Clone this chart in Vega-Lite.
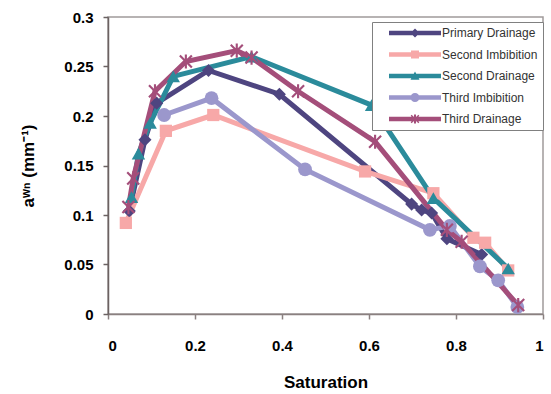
{
  "$schema": "https://vega.github.io/schema/vega-lite/v6.json",
  "width": 435,
  "height": 297,
  "autosize": "none",
  "padding": {"left": 108, "top": 17, "right": 8, "bottom": 80},
  "background": "white",
  "config": {
    "view": {"stroke": "#a09a9a", "strokeWidth": 1.5},
    "font": "Liberation Sans"
  },
  "data": {
    "values": [
      {"series": "Primary Drainage", "s": 0.049, "a": 0.104},
      {"series": "Primary Drainage", "s": 0.085, "a": 0.176},
      {"series": "Primary Drainage", "s": 0.112, "a": 0.213},
      {"series": "Primary Drainage", "s": 0.231, "a": 0.246},
      {"series": "Primary Drainage", "s": 0.394, "a": 0.222},
      {"series": "Primary Drainage", "s": 0.698, "a": 0.111},
      {"series": "Primary Drainage", "s": 0.721, "a": 0.105},
      {"series": "Primary Drainage", "s": 0.744, "a": 0.102},
      {"series": "Primary Drainage", "s": 0.779, "a": 0.076},
      {"series": "Primary Drainage", "s": 0.859, "a": 0.060},
      {"series": "Second Imbibition", "s": 0.041, "a": 0.092},
      {"series": "Second Imbibition", "s": 0.133, "a": 0.185},
      {"series": "Second Imbibition", "s": 0.242, "a": 0.201},
      {"series": "Second Imbibition", "s": 0.591, "a": 0.144},
      {"series": "Second Imbibition", "s": 0.748, "a": 0.122},
      {"series": "Second Imbibition", "s": 0.840, "a": 0.077},
      {"series": "Second Imbibition", "s": 0.867, "a": 0.072},
      {"series": "Second Imbibition", "s": 0.920, "a": 0.044},
      {"series": "Second Drainage", "s": 0.054, "a": 0.118},
      {"series": "Second Drainage", "s": 0.070, "a": 0.162},
      {"series": "Second Drainage", "s": 0.097, "a": 0.193},
      {"series": "Second Drainage", "s": 0.150, "a": 0.240},
      {"series": "Second Drainage", "s": 0.330, "a": 0.260},
      {"series": "Second Drainage", "s": 0.606, "a": 0.211},
      {"series": "Second Drainage", "s": 0.748, "a": 0.117},
      {"series": "Second Drainage", "s": 0.920, "a": 0.046},
      {"series": "Third Imbibition", "s": 0.129, "a": 0.201},
      {"series": "Third Imbibition", "s": 0.238, "a": 0.218},
      {"series": "Third Imbibition", "s": 0.453, "a": 0.146},
      {"series": "Third Imbibition", "s": 0.740, "a": 0.085},
      {"series": "Third Imbibition", "s": 0.786, "a": 0.089},
      {"series": "Third Imbibition", "s": 0.855, "a": 0.048},
      {"series": "Third Imbibition", "s": 0.897, "a": 0.034},
      {"series": "Third Imbibition", "s": 0.941, "a": 0.007},
      {"series": "Third Drainage", "s": 0.047, "a": 0.108},
      {"series": "Third Drainage", "s": 0.058, "a": 0.137},
      {"series": "Third Drainage", "s": 0.108, "a": 0.225},
      {"series": "Third Drainage", "s": 0.179, "a": 0.255},
      {"series": "Third Drainage", "s": 0.296, "a": 0.266},
      {"series": "Third Drainage", "s": 0.330, "a": 0.259},
      {"series": "Third Drainage", "s": 0.437, "a": 0.225},
      {"series": "Third Drainage", "s": 0.614, "a": 0.174},
      {"series": "Third Drainage", "s": 0.779, "a": 0.085},
      {"series": "Third Drainage", "s": 0.813, "a": 0.073},
      {"series": "Third Drainage", "s": 0.943, "a": 0.009}
    ]
  },
  "encoding": {
    "x": {
      "field": "s", "type": "quantitative",
      "scale": {"domain": [0, 1], "nice": false, "zero": false},
      "axis": {
        "title": "Saturation", "values": [0, 0.2, 0.4, 0.6, 0.8, 1], "format": ".1~f",
        "grid": false, "domainColor": "#8a8080", "domainWidth": 1.5, "tickColor": "#8a8080", "tickSize": 5, "tickWidth": 1.5,
        "labelFont": "Liberation Sans", "labelFontWeight": "bold", "labelFontSize": 15, "labelColor": "#000", "labelPadding": 19,
        "titleFont": "Liberation Sans", "titleFontWeight": "bold", "titleFontSize": 17, "titleColor": "#000", "titlePadding": 21
      }
    },
    "y": {
      "field": "a", "type": "quantitative",
      "scale": {"domain": [0, 0.3], "nice": false, "zero": false},
      "axis": {
        "title": "aʷⁿ (mm⁻¹)", "values": [0, 0.05, 0.1, 0.15, 0.2, 0.25, 0.3], "format": ".2~f",
        "grid": false, "domainColor": "#6b6262", "domainWidth": 1.5, "tickColor": "#6b6262", "tickSize": 5, "tickWidth": 1.5,
        "labelFont": "Liberation Sans", "labelFontWeight": "bold", "labelFontSize": 15, "labelColor": "#000", "labelPadding": 10,
        "titleFont": "Liberation Sans", "titleFontWeight": "bold", "titleFontSize": 17, "titleColor": "#000", "titlePadding": 26
      }
    },
    "color": {
      "field": "series", "type": "nominal",
      "scale": {
        "domain": ["Primary Drainage", "Second Imbibition", "Second Drainage", "Third Imbibition", "Third Drainage"],
        "range": ["#4e4580", "#f7a8a8", "#2b8b9b", "#9b97cc", "#a44e7a"]
      },
      "legend": {
        "title": null, "orient": "none", "legendX": 264, "legendY": 5,
        "symbolSize": 100, "symbolOffset": 32, "labelOffset": 21, "symbolOpacity": 1, "symbolStrokeWidth": 0,
        "labelFont": "Liberation Sans", "labelFontSize": 12, "labelColor": "#333",
        "padding": 5, "rowPadding": 9.5, "strokeColor": "#808080", "fillColor": "white",
        "encode": {
          "symbols": {
            "update": {
              "fill": {"scale": "color", "field": "value"},
              "strokeWidth": {"value": 0},
              "shape": {"signal": "datum.value === 'Primary Drainage' ? 'M-5.2,-0.45L5.2,-0.45L5.2,0.45L-5.2,0.45ZM0,-0.9L0.9,0L0,0.9L-0.9,0Z' : datum.value === 'Second Imbibition' ? 'M-5.2,-0.45L5.2,-0.45L5.2,0.45L-5.2,0.45ZM-0.8,-0.8L0.8,-0.8L0.8,0.8L-0.8,0.8Z' : datum.value === 'Second Drainage' ? 'M-5.2,-0.45L5.2,-0.45L5.2,0.45L-5.2,0.45ZM0,-0.9L0.9,0.75L-0.9,0.75Z' : datum.value === 'Third Imbibition' ? 'M-5.2,-0.45L5.2,-0.45L5.2,0.45L-5.2,0.45ZM-0.9,0A0.9,0.9,0,1,1,0.9,0A0.9,0.9,0,1,1,-0.9,0Z' : 'M-5.2,-0.45L5.2,-0.45L5.2,0.45L-5.2,0.45ZM-0.2,-0.9L0.2,-0.9L0.2,0.9L-0.2,0.9ZM-0.67,-0.86L0.86,0.67L0.67,0.86L-0.86,-0.67ZM0.86,-0.67L-0.67,0.86L-0.86,0.67L0.67,-0.86Z'"}
            }
          }
        }
      }
    }
  },
  "layer": [
    {"mark": {"type": "line", "strokeWidth": 5}},
    {
      "transform": [{"filter": {"field": "series", "equal": "Primary Drainage"}}],
      "mark": {"type": "point", "filled": true, "opacity": 1, "size": 170, "shape": "diamond"}
    },
    {
      "transform": [{"filter": {"field": "series", "equal": "Second Imbibition"}}],
      "mark": {"type": "point", "filled": true, "opacity": 1, "size": 150, "shape": "square"}
    },
    {
      "transform": [{"filter": {"field": "series", "equal": "Second Drainage"}}],
      "mark": {"type": "point", "filled": true, "opacity": 1, "size": 180, "shape": "triangle-up"}
    },
    {
      "transform": [{"filter": {"field": "series", "equal": "Third Imbibition"}}],
      "mark": {"type": "point", "filled": true, "opacity": 1, "size": 190, "shape": "circle"}
    },
    {
      "transform": [{"filter": {"field": "series", "equal": "Third Drainage"}}],
      "mark": {"type": "point", "filled": true, "opacity": 1, "size": 200, "shape": "M-0.15,-1L-0.15,1L0.15,1L0.15,-1ZM-0.956,-0.744L0.744,0.956L0.956,0.744L-0.744,-0.956ZM0.744,-0.956L-0.956,0.744L-0.744,0.956L0.956,-0.744Z"}
    }
  ]
}
